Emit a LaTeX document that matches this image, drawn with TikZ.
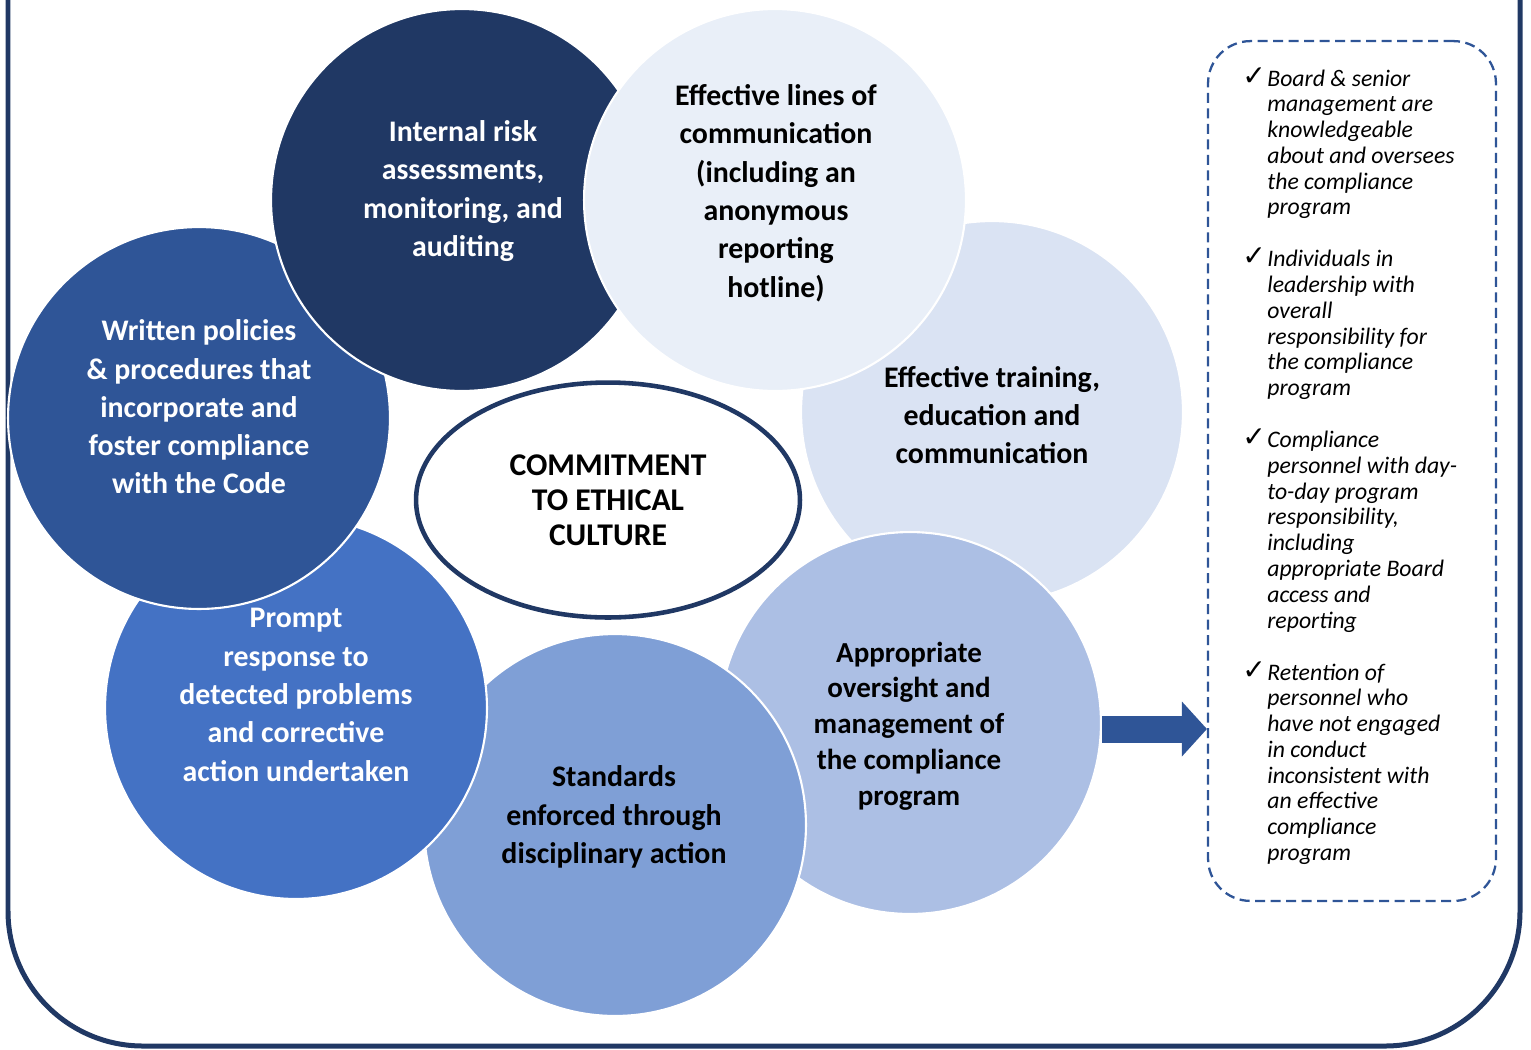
\documentclass[tikz,border=0pt]{standalone}
\usepackage{fontspec}
\usepackage{array}
\setmainfont{Carlito}
\newfontfamily\symfont{DejaVu Sans}
\usetikzlibrary{shapes.geometric,arrows.meta}
\definecolor{navy}{HTML}{203864}
\definecolor{deepblue}{HTML}{2F5597}
\definecolor{midblue}{HTML}{4472C4}
\definecolor{stdblue}{HTML}{7F9FD6}
\definecolor{overblue}{HTML}{ACBFE4}
\definecolor{trainblue}{HTML}{DAE3F3}
\definecolor{paleblue}{HTML}{E9EFF8}
\newcommand{\tick}{\raisebox{0.5pt}{\fontsize{16}{16}\symfont ✓}}
\tikzset{
	bubble/.style={circle, draw=white, line width=1.2pt, minimum size=7.64cm, inner sep=0pt},
	bubtext/.style={align=center, inner sep=0pt, font=\fontsize{17}{21.8}\selectfont\bfseries},
}
\begin{document}
\begin{tikzpicture}[x=0.02cm, y=-0.02cm, line join=round]
	\useasboundingbox (0,0) rectangle (1531,1049);
	% outer frame, its top runs off the page
	\draw[navy, line width=0.1cm, rounded corners=2.7cm] (8,-30) -- (8,1046) -- (1520,1046) -- (1520,-30);
	% circles, from back to front
	\node[bubble, fill=trainblue] (train) at (992,412) {};
	\node[bubble, fill=overblue] (over) at (910,723) {};
	\node[bubble, fill=stdblue] (std) at (615,825) {};
	\node[bubble, fill=midblue] (prompt) at (296,708) {};
	\node[bubble, fill=deepblue] (written) at (199,418) {};
	\node[bubble, fill=navy] (risk) at (462,200) {};
	\node[bubble, fill=paleblue] (lines) at (775,200) {};
	% texts of the circles
	\node[bubtext, white] (risktxt) at (463,191) {Internal risk\\assessments,\\monitoring, and\\auditing};
	\node[bubtext] (linestxt) at (776,193) {Effective lines of\\communication\\(including an\\anonymous\\reporting\\hotline)};
	\node[bubtext] (traintxt) at (992,415) {Effective training,\\education and\\communication};
	\node[bubtext, font=\fontsize{16.5}{20.4}\selectfont\bfseries] (overtxt) at (909,726) {Appropriate\\oversight and\\management of\\the compliance\\program};
	\node[bubtext] (stdtxt) at (614,817) {Standards\\enforced through\\disciplinary action};
	\node[bubtext, white] (prompttxt) at (296,695) {Prompt\\response to\\detected problems\\and corrective\\action undertaken};
	\node[bubtext, white] (writtentxt) at (199,407) {Written policies\\\& procedures that\\incorporate and\\foster compliance\\with the Code};
	% centre
	\node[ellipse, draw=navy, line width=2.6pt, fill=white, minimum width=7.68cm, minimum height=4.7cm, align=center, font=\fontsize{18}{19.8}\selectfont\bfseries] (core) at (608,500) {COMMITMENT\\TO ETHICAL\\CULTURE};
	% dashed list box
	\node[draw=deepblue, line width=1.3pt, dash pattern=on 0.2cm off 0.11cm, rounded corners=0.85cm, minimum width=5.76cm, minimum height=17.2cm] (box) at (1352,471) {};
	\node[anchor=base west, inner sep=0pt, font=\fontsize{13.5}{14.66}\selectfont] (checks) at (1242,86) {%
		\begin{tabular}[t]{@{}p{0.5cm}@{}>{\itshape}l@{}}
			\tick & Board \& senior\\
			& management are\\
			& knowledgeable\\
			& about and oversees\\
			& the compliance\\
			& program\\
			& \\
			\tick & Individuals in\\
			& leadership with\\
			& overall\\
			& responsibility for\\
			& the compliance\\
			& program\\
			& \\
			\tick & Compliance\\
			& personnel with day-\\
			& to-day program\\
			& responsibility,\\
			& including\\
			& appropriate Board\\
			& access and\\
			& reporting\\
			& \\
			\tick & Retention of\\
			& personnel who\\
			& have not engaged\\
			& in conduct\\
			& inconsistent with\\
			& an effective\\
			& compliance\\
			& program
		\end{tabular}};
	% block arrow into the box
	\coordinate (tail) at (1102,729);
	\draw[deepblue, line width=0.54cm, -{Triangle[length=0.5cm, width=1.1cm, line width=0pt]}] (tail) -- (tail -| box.west);
\end{tikzpicture}
\end{document}
